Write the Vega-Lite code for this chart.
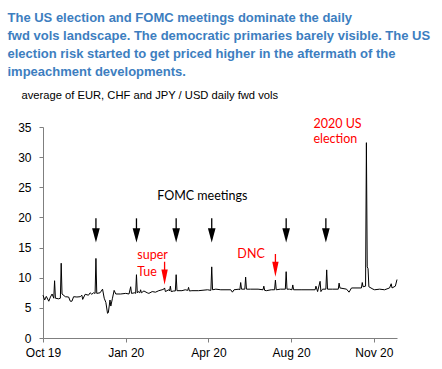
{
  "$schema": "https://vega.github.io/schema/vega-lite/v6.json",
  "width": 354,
  "height": 211,
  "autosize": {"type": "none"},
  "padding": {"left": 43, "top": 127, "right": 45, "bottom": 31},
  "background": "white",
  "config": {
    "view": {"stroke": null},
    "axis": {"domainColor": "#7f7f7f", "tickColor": "#7f7f7f", "labelColor": "#000000", "labelFont": "Liberation Sans", "labelFontSize": 12, "grid": false, "tickSize": 4}
  },
  "title": {
    "text": ["The US election and FOMC meetings dominate the daily", "fwd vols landscape. The democratic primaries barely visible. The US", "election risk started to get priced higher in the aftermath of the", "impeachment developments."],
    "anchor": "start",
    "frame": "group",
    "dx": -35.5,
    "offset": 10,
    "font": "Liberation Sans",
    "fontSize": 13,
    "fontWeight": "bold",
    "color": "#3d7ebf",
    "lineHeight": 18
  },
  "encoding": {
    "x": {
      "field": "date",
      "type": "temporal",
      "scale": {"type": "utc", "domain": [{"year": 2019, "month": 10, "date": 8, "utc": true}, {"year": 2020, "month": 12, "date": 9, "utc": true}]},
      "axis": {
        "title": null,
        "values": [{"year": 2019, "month": 10, "date": 8, "utc": true}, {"year": 2020, "month": 1, "date": 16, "utc": true}, {"year": 2020, "month": 4, "date": 25, "utc": true}, {"year": 2020, "month": 8, "date": 3, "utc": true}, {"year": 2020, "month": 11, "date": 11, "utc": true}],
        "labelExpr": "utcFormat(datum.value, '%b %y')",
        "labelPadding": 5,
        "labelAlign": "center"
      }
    },
    "y": {
      "field": "vol",
      "type": "quantitative",
      "scale": {"domain": [0, 35], "nice": false},
      "axis": {
        "values": [0, 5, 10, 15, 20, 25, 30, 35],
        "labelPadding": 8,
        "title": "average of EUR, CHF and JPY / USD daily fwd vols",
        "titleAngle": 0,
        "titleAlign": "left",
        "titleBaseline": "alphabetic",
        "titleX": -22,
        "titleY": -29,
        "titleFont": "Liberation Sans",
        "titleFontSize": 11.2,
        "titleFontWeight": "normal",
        "titleColor": "#000000"
      }
    }
  },
  "layer": [
    {
      "data": {"values": [
        {"date": "2019-10-08", "vol": 7.1}, {"date": "2019-10-10", "vol": 6.3}, {"date": "2019-10-12", "vol": 6.9}, {"date": "2019-10-15", "vol": 6.1}, {"date": "2019-10-17", "vol": 6.8}, {"date": "2019-10-19", "vol": 7.3}, {"date": "2019-10-21", "vol": 6.6}, {"date": "2019-10-22", "vol": 9.5}, {"date": "2019-10-23", "vol": 6.6}, {"date": "2019-10-27", "vol": 6.5}, {"date": "2019-10-29", "vol": 6.6}, {"date": "2019-10-30", "vol": 12.4}, {"date": "2019-10-31", "vol": 7.3},
        {"date": "2019-11-04", "vol": 6.85}, {"date": "2019-11-08", "vol": 6.8}, {"date": "2019-11-10", "vol": 6.1}, {"date": "2019-11-12", "vol": 6.1}, {"date": "2019-11-14", "vol": 6.85}, {"date": "2019-11-18", "vol": 6.8}, {"date": "2019-11-22", "vol": 6.85}, {"date": "2019-11-24", "vol": 7.1}, {"date": "2019-11-25", "vol": 6.4}, {"date": "2019-11-28", "vol": 7.25},
        {"date": "2019-12-02", "vol": 7.1}, {"date": "2019-12-04", "vol": 7.5}, {"date": "2019-12-06", "vol": 7.25}, {"date": "2019-12-08", "vol": 7.5}, {"date": "2019-12-10", "vol": 7.4}, {"date": "2019-12-11", "vol": 13.2}, {"date": "2019-12-12", "vol": 7.4}, {"date": "2019-12-16", "vol": 7.5}, {"date": "2019-12-19", "vol": 8.1}, {"date": "2019-12-21", "vol": 6.6}, {"date": "2019-12-23", "vol": 5.9}, {"date": "2019-12-25", "vol": 4.1}, {"date": "2019-12-26", "vol": 4.2}, {"date": "2019-12-28", "vol": 6.3}, {"date": "2019-12-29", "vol": 5.3}, {"date": "2019-12-31", "vol": 6.6},
        {"date": "2020-01-02", "vol": 7.9}, {"date": "2020-01-04", "vol": 7.3}, {"date": "2020-01-10", "vol": 7.3}, {"date": "2020-01-16", "vol": 7.4}, {"date": "2020-01-20", "vol": 7.3}, {"date": "2020-01-22", "vol": 8.5}, {"date": "2020-01-23", "vol": 7.4}, {"date": "2020-01-27", "vol": 7.5}, {"date": "2020-01-28", "vol": 7.4}, {"date": "2020-01-29", "vol": 10.5}, {"date": "2020-01-30", "vol": 7.5}, {"date": "2020-01-31", "vol": 7.7},
        {"date": "2020-02-02", "vol": 7.5}, {"date": "2020-02-03", "vol": 8.0}, {"date": "2020-02-04", "vol": 7.5}, {"date": "2020-02-07", "vol": 7.8}, {"date": "2020-02-11", "vol": 7.5}, {"date": "2020-02-13", "vol": 7.4}, {"date": "2020-02-17", "vol": 7.7}, {"date": "2020-02-21", "vol": 7.6}, {"date": "2020-02-25", "vol": 7.85}, {"date": "2020-02-29", "vol": 8.0},
        {"date": "2020-03-02", "vol": 8.1}, {"date": "2020-03-03", "vol": 8.3}, {"date": "2020-03-04", "vol": 7.7}, {"date": "2020-03-08", "vol": 8.0}, {"date": "2020-03-09", "vol": 7.8}, {"date": "2020-03-10", "vol": 8.6}, {"date": "2020-03-11", "vol": 7.7}, {"date": "2020-03-14", "vol": 7.8}, {"date": "2020-03-16", "vol": 7.8}, {"date": "2020-03-17", "vol": 10.5}, {"date": "2020-03-18", "vol": 7.85}, {"date": "2020-03-24", "vol": 7.85}, {"date": "2020-03-28", "vol": 8.0}, {"date": "2020-03-31", "vol": 7.9},
        {"date": "2020-04-01", "vol": 8.4}, {"date": "2020-04-02", "vol": 7.8}, {"date": "2020-04-05", "vol": 7.85}, {"date": "2020-04-13", "vol": 7.85}, {"date": "2020-04-24", "vol": 8.0}, {"date": "2020-04-28", "vol": 7.9}, {"date": "2020-04-29", "vol": 11.8}, {"date": "2020-04-30", "vol": 8.0},
        {"date": "2020-05-04", "vol": 8.1}, {"date": "2020-05-10", "vol": 8.0}, {"date": "2020-05-22", "vol": 8.0}, {"date": "2020-05-24", "vol": 7.6}, {"date": "2020-05-26", "vol": 8.0},
        {"date": "2020-06-01", "vol": 8.1}, {"date": "2020-06-02", "vol": 8.0}, {"date": "2020-06-03", "vol": 9.2}, {"date": "2020-06-04", "vol": 8.1}, {"date": "2020-06-08", "vol": 8.1}, {"date": "2020-06-09", "vol": 10.1}, {"date": "2020-06-10", "vol": 8.1}, {"date": "2020-06-15", "vol": 8.1}, {"date": "2020-06-24", "vol": 8.1}, {"date": "2020-06-30", "vol": 8.0},
        {"date": "2020-07-01", "vol": 8.6}, {"date": "2020-07-02", "vol": 7.9}, {"date": "2020-07-04", "vol": 7.85}, {"date": "2020-07-10", "vol": 8.0}, {"date": "2020-07-14", "vol": 8.0}, {"date": "2020-07-15", "vol": 9.6}, {"date": "2020-07-16", "vol": 8.0}, {"date": "2020-07-21", "vol": 8.1}, {"date": "2020-07-27", "vol": 8.1}, {"date": "2020-07-28", "vol": 11.0}, {"date": "2020-07-29", "vol": 8.1},
        {"date": "2020-08-01", "vol": 8.1}, {"date": "2020-08-04", "vol": 8.0}, {"date": "2020-08-05", "vol": 8.8}, {"date": "2020-08-06", "vol": 8.0}, {"date": "2020-08-15", "vol": 8.0}, {"date": "2020-08-27", "vol": 8.0},
        {"date": "2020-09-01", "vol": 8.0}, {"date": "2020-09-02", "vol": 8.6}, {"date": "2020-09-04", "vol": 7.7}, {"date": "2020-09-07", "vol": 9.4}, {"date": "2020-09-08", "vol": 7.7}, {"date": "2020-09-10", "vol": 8.1}, {"date": "2020-09-14", "vol": 8.1}, {"date": "2020-09-15", "vol": 11.3}, {"date": "2020-09-16", "vol": 8.1}, {"date": "2020-09-22", "vol": 8.1}, {"date": "2020-09-29", "vol": 8.1}, {"date": "2020-09-30", "vol": 9.1},
        {"date": "2020-10-01", "vol": 8.3}, {"date": "2020-10-09", "vol": 8.1}, {"date": "2020-10-12", "vol": 7.6}, {"date": "2020-10-15", "vol": 8.3}, {"date": "2020-10-27", "vol": 8.3}, {"date": "2020-10-28", "vol": 9.2}, {"date": "2020-10-29", "vol": 8.5},
        {"date": "2020-11-01", "vol": 8.6}, {"date": "2020-11-02", "vol": 32.4}, {"date": "2020-11-03", "vol": 11.8}, {"date": "2020-11-04", "vol": 11.5}, {"date": "2020-11-05", "vol": 8.5}, {"date": "2020-11-10", "vol": 8.1}, {"date": "2020-11-12", "vol": 8.0}, {"date": "2020-11-18", "vol": 8.1}, {"date": "2020-11-24", "vol": 8.0}, {"date": "2020-11-30", "vol": 8.3},
        {"date": "2020-12-02", "vol": 9.0}, {"date": "2020-12-03", "vol": 8.3}, {"date": "2020-12-07", "vol": 8.6}, {"date": "2020-12-09", "vol": 9.7}
      ]},
      "mark": {"type": "line", "color": "#000000", "strokeWidth": 1}
    },
    {
      "data": {"values": [{"date": "2019-12-11", "top": 19.85, "head": 17.03}, {"date": "2020-01-29", "top": 19.85, "head": 17.03}, {"date": "2020-03-17", "top": 19.85, "head": 17.03}, {"date": "2020-04-29", "top": 19.85, "head": 17.03}, {"date": "2020-07-28", "top": 19.85, "head": 17.03}, {"date": "2020-09-14", "top": 19.85, "head": 17.03}]},
      "mark": {"type": "rule", "color": "#000000", "strokeWidth": 1.3},
      "encoding": {"y": {"field": "top", "type": "quantitative"}, "y2": {"field": "head"}}
    },
    {
      "data": {"values": [{"date": "2019-12-11", "top": 19.85, "head": 17.03}, {"date": "2020-01-29", "top": 19.85, "head": 17.03}, {"date": "2020-03-17", "top": 19.85, "head": 17.03}, {"date": "2020-04-29", "top": 19.85, "head": 17.03}, {"date": "2020-07-28", "top": 19.85, "head": 17.03}, {"date": "2020-09-14", "top": 19.85, "head": 17.03}]},
      "mark": {"type": "point", "shape": "M-0.53,-1L0.53,-1L0,1Z", "filled": true, "color": "#000000", "opacity": 1, "size": 207},
      "encoding": {"y": {"field": "head", "type": "quantitative"}}
    },
    {
      "data": {"values": [{"date": "2020-03-03", "top": 12.65, "head": 10.1}, {"date": "2020-07-15", "top": 13.93, "head": 11.4}]},
      "mark": {"type": "rule", "color": "#ff0000", "strokeWidth": 1.3},
      "encoding": {"y": {"field": "top", "type": "quantitative"}, "y2": {"field": "head"}}
    },
    {
      "data": {"values": [{"date": "2020-03-03", "top": 12.65, "head": 10.1}, {"date": "2020-07-15", "top": 13.93, "head": 11.4}]},
      "mark": {"type": "point", "shape": "M-0.42,-1L0.42,-1L0,1Z", "filled": true, "color": "#ff0000", "opacity": 1, "size": 230},
      "encoding": {"y": {"field": "head", "type": "quantitative"}}
    },
    {
      "data": {"values": [{"date": "2020-02-23", "vol": 22.9, "label": "FOMC meetings"}]},
      "mark": {"type": "text", "align": "left", "baseline": "alphabetic", "font": "Lato", "fontSize": 12.5, "color": "#000000"},
      "encoding": {"text": {"field": "label"}}
    },
    {
      "data": {"values": [
        {"date": "2020-01-30", "vol": 13.05, "label": "super"},
        {"date": "2020-01-30", "vol": 10.33, "label": "Tue"},
        {"date": "2020-05-30", "vol": 13.2, "label": "DNC"},
        {"date": "2020-08-30", "vol": 34.9, "label": "2020 US"},
        {"date": "2020-08-30", "vol": 32.4, "label": "election"}
      ]},
      "mark": {"type": "text", "align": "left", "baseline": "alphabetic", "font": "Lato", "fontSize": 12.5, "color": "#ff0000"},
      "encoding": {"text": {"field": "label"}}
    }
  ]
}
